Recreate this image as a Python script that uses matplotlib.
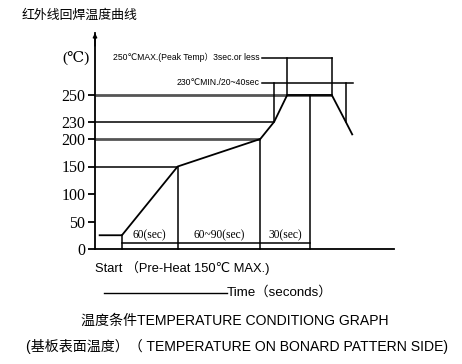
import numpy as np
import matplotlib
matplotlib.use("Agg")
import matplotlib.pyplot as plt
from matplotlib.lines import Line2D

# ---------------- data ----------------
title = "红外线回焊温度曲线"
y_ticks = [0, 50, 100, 150, 200, 230, 250]
# reflow profile (time in s, temperature in °C)
profile_t = [-24, 0, 60, 149, 164, 178, 226, 241, 248]
profile_T = [25, 25, 150, 200, 230, 250, 250, 230, 208]
# reference (guide) levels: level, end time, colour key
level_T = [250, 230, 200, 150]
level_end = [226, 164, 149, 60]
level_thick = [True, False, True, False]
# drop lines to the time axis
drop_t = [0, 60, 149, 202]
drop_T = [25, 150, 200, 250]
# phase intervals
phase_edges = [0, 60, 149, 202]
phase_labels = ["60(sec)", "60~90(sec)", "30(sec)"]
# annotations
peak_label = "250℃MAX.(Peak Temp）3sec.or less"
peak_level = 280
peak_span = [178, 226]
min_label = "230℃MIN./20~40sec"
min_level = 260
min_span = [164, 241]
ann_line_start = 150.5
ann_line_end = [226, 249]

# piecewise axis scale (schematic, non-uniform temperature axis)
scale_T = [0, 50, 100, 150, 200, 230, 250, 300]
scale_pos = [0, 27.5, 55, 82.5, 110, 127.3, 154, 216]

def fwd(v):
    return np.interp(v, scale_T, scale_pos)

def inv(v):
    return np.interp(v, scale_pos, scale_T)

W, H = 462, 364
fig = plt.figure(figsize=(W / 100, H / 100), dpi=100)

def px(x, y):
    return x / W, 1 - y / H

ax = fig.add_axes([95 / W, (H - 249) / H, (394 - 95) / W, 216 / H])
ax.set_yscale("function", functions=(fwd, inv))
ax.set_xlim(-29, 293)
ax.set_ylim(0, 300)
xl = ax.get_xlim()[0]

for s in ["top", "right"]:
    ax.spines[s].set_visible(False)
for s in ["left", "bottom"]:
    ax.spines[s].set_linewidth(1.3)
    ax.spines[s].set_color("black")

ax.set_xticks([])
ax.set_yticks(y_ticks)
ax.set_yticklabels([str(v) for v in y_ticks])
ax.yaxis.set_minor_locator(matplotlib.ticker.NullLocator())
ax.tick_params(axis="y", direction="out", length=5, width=1.3, pad=2,
               labelsize=11.5)
for lab in ax.get_yticklabels():
    lab.set_fontfamily(["Liberation Serif", "DejaVu Serif"])

# arrow on y axis
ax.annotate("", xy=(0, 1.0), xytext=(0, 0.94), xycoords="axes fraction",
            arrowprops=dict(arrowstyle="-|>", color="black", lw=1.0,
                            mutation_scale=6, shrinkA=0, shrinkB=0))

# guide levels
for T, xe, thick in zip(level_T, level_end, level_thick):
    ax.plot([xl, xe], [T, T], color="#555555" if thick else "black",
            lw=2.0 if thick else 1.1, clip_on=False, solid_capstyle="butt")

# drop lines
for t, T in zip(drop_t, drop_T):
    ax.plot([t, t], [0, T], color="black", lw=1.1, clip_on=False)

# phase bracket
ax.plot([phase_edges[0], phase_edges[-1]], [11.5, 11.5], color="black", lw=1.1)
for i, lab in enumerate(phase_labels):
    ax.text((phase_edges[i] + phase_edges[i + 1]) / 2, 14.5, lab,
            ha="center", va="bottom", fontsize=8.3,
            family=["Liberation Serif", "DejaVu Serif"])

# profile
ax.plot(profile_t, profile_T, color="black", lw=1.3, clip_on=False)

# annotations
ann_fam = ["Liberation Sans", "DejaVu Sans", "Noto Sans CJK SC"]
ax.text(ann_line_start - 2.5, peak_level, peak_label, ha="right", va="center",
        fontsize=6.2, family=ann_fam)
ax.text(ann_line_start - 2.5, min_level, min_label, ha="right", va="center",
        fontsize=6.2, family=ann_fam)
ax.plot([ann_line_start, ann_line_end[0]], [peak_level, peak_level],
        color="black", lw=1.1, clip_on=False)
ax.plot([ann_line_start, ann_line_end[1]], [min_level, min_level],
        color="black", lw=1.1, clip_on=False)
for t in peak_span:
    ax.plot([t, t], [250, peak_level], color="black", lw=1.1, clip_on=False)
ax.plot([min_span[0], min_span[0]], [230, min_level], color="black", lw=1.1)
ax.plot([min_span[1], min_span[1]], [230, min_level], color="black", lw=1.1)

# unit label
fig.text(*px(62, 58), "(℃)", ha="left", va="center", fontsize=11,
         family=["Liberation Serif", "DejaVu Serif"])

# title
cjk = ["Liberation Sans", "Noto Sans CJK SC"]
fig.text(*px(22, 15), title, ha="left", va="center", fontsize=9.3,
         family=["Noto Sans CJK SC"])

fig.text(*px(95, 268), "Start （Pre-Heat 150℃ MAX.)", ha="left", va="center",
         fontsize=9.3, family=["Liberation Sans", "DejaVu Sans", "Noto Sans CJK SC"])
fig.add_artist(Line2D([104 / W, 227 / W], [1 - 292.7 / H] * 2, color="black",
                      lw=1.0, transform=fig.transFigure))
fig.text(*px(227, 292.7), "Time（seconds）", ha="left", va="center",
         fontsize=9.6, family=cjk)
fig.text(*px(81, 320.7), "温度条件TEMPERATURE CONDITIONG GRAPH", ha="left",
         va="center", fontsize=10.1, family=cjk)
fig.text(*px(26, 346.7), "(基板表面温度）（ TEMPERATURE ON BONARD PATTERN SIDE)",
         ha="left", va="center", fontsize=10.1, family=cjk)

fig.savefig("out.png", dpi=100)
